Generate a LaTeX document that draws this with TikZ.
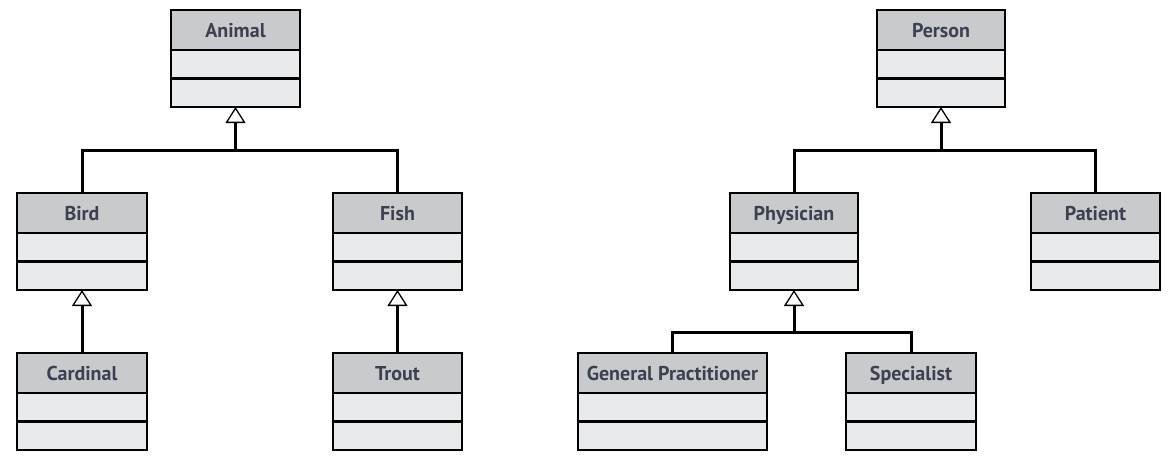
\documentclass[tikz,border=0pt]{standalone}
\usepackage{fontspec}
\setmainfont{PT Sans}
\usetikzlibrary{arrows.meta,calc}
\definecolor{hdr}{HTML}{C9CACC}
\definecolor{comp}{HTML}{E9EAEC}
\definecolor{txt}{HTML}{3B4150}
\tikzset{
  classbox/.style={draw=black, line width=2.8pt, fill=comp, anchor=north west,
    minimum height=97pt, inner sep=0pt, outer sep=0pt,
    path picture={
      \fill[hdr] (path picture bounding box.north west) rectangle ([yshift=-40pt]path picture bounding box.east |- path picture bounding box.north);
      \draw[line width=2.6pt] ([yshift=-40pt]path picture bounding box.north west) -- ([yshift=-40pt]path picture bounding box.north east);
      \draw[line width=2.4pt] ([yshift=-68.5pt]path picture bounding box.north west) -- ([yshift=-68.5pt]path picture bounding box.north east);
    }},
  classtitle/.style={font=\bfseries\fontsize{20}{24}\selectfont, text=txt, inner sep=0pt, anchor=base},
  conn/.style={line width=3pt, draw=black},
  gen/.style={conn, -{Triangle[open, width=20pt, length=16pt, line width=1.3pt, fill=white]}},
}
\newcommand\umlclass[5]{%
  \node[classbox, minimum width=#4pt] (#1) at (#2,#3) {};
  \node[classtitle] (#1-t) at ([yshift=-27.5pt]#1.north) {#5};
}
\begin{document}
\begin{tikzpicture}[x=1pt,y=-1pt]
\useasboundingbox (0,0) rectangle (1170,464);
\umlclass{animal}{171}{10}{129}{Animal}
\umlclass{bird}{17}{193}{130}{Bird}
\umlclass{fish}{333}{193}{129}{Fish}
\umlclass{cardinal}{17}{353}{130}{Cardinal}
\umlclass{trout}{333}{353}{129}{Trout}
\umlclass{person}{877}{10}{128}{Person}
\umlclass{physician}{730}{193}{128}{Physician}
\umlclass{patient}{1031}{193}{129}{Patient}
\umlclass{gp}{578}{353}{189}{General Practitioner}
\umlclass{specialist}{846}{353}{130}{Specialist}

\coordinate (ja) at ($(animal.south)+(0,43)$);
\draw[conn] (bird.north) |- (ja) -| (fish.north);
\draw[gen] (ja) -- (animal.south);
\draw[gen] (cardinal.north) -- (bird.south);
\draw[gen] (trout.north) -- (fish.south);

\coordinate (jp) at ($(person.south)+(0,43)$);
\draw[conn] (physician.north) |- (jp) -| (patient.north);
\draw[gen] (jp) -- (person.south);

\coordinate (jd) at ($(physician.south)+(0,42)$);
\draw[conn] (gp.north) |- (jd) -| (specialist.north);
\draw[gen] (jd) -- (physician.south);
\end{tikzpicture}
\end{document}
